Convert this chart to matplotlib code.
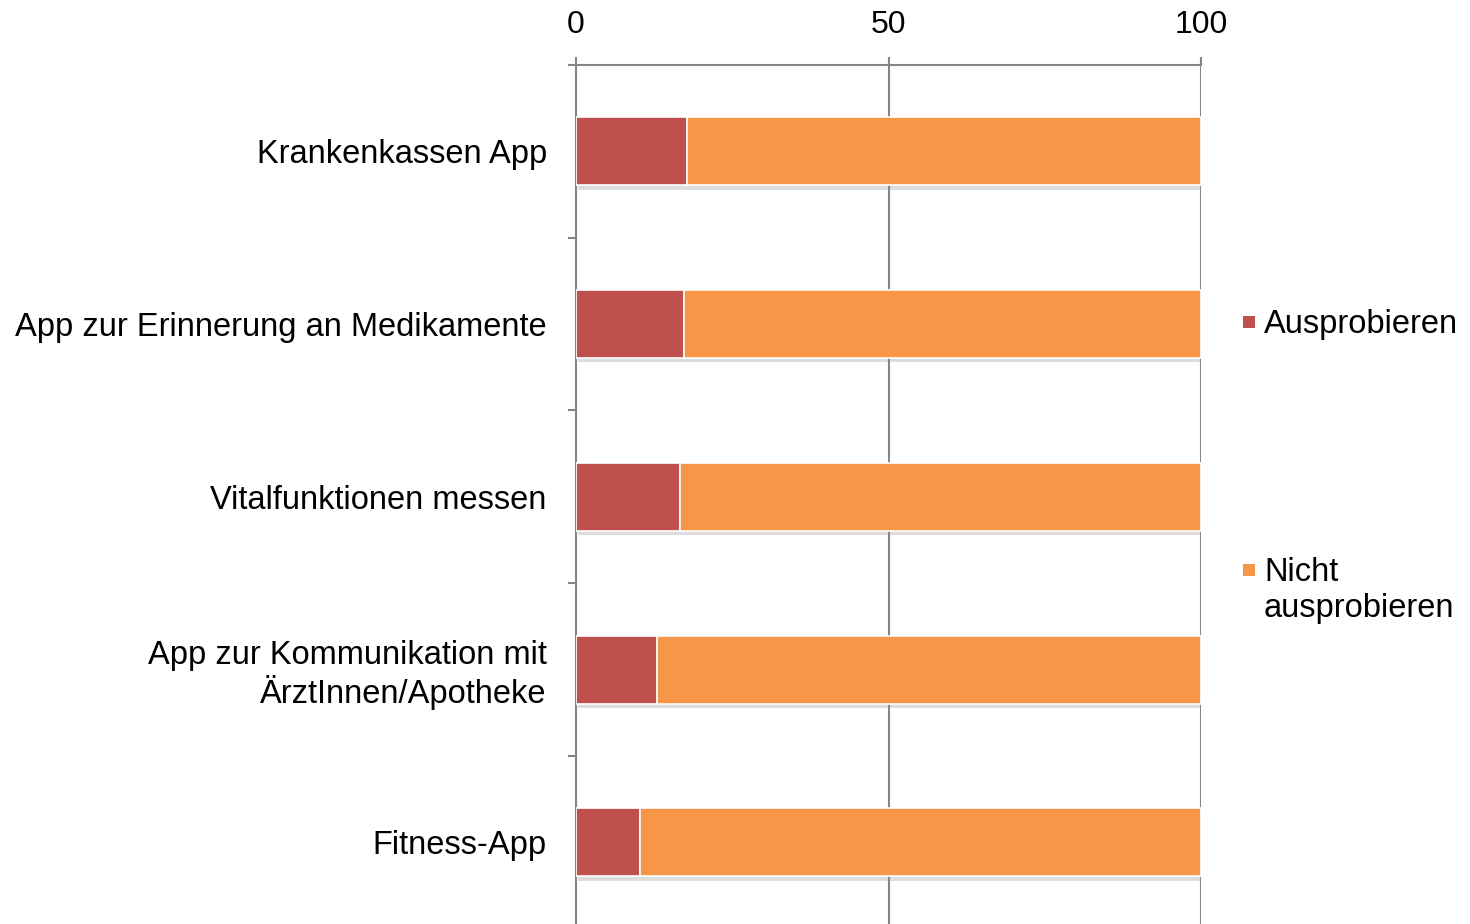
import matplotlib
matplotlib.use("Agg")
import matplotlib.pyplot as plt
import matplotlib.patheffects as pe
from matplotlib.patches import Rectangle
import numpy as np

categories = ["Krankenkassen App", "App zur Erinnerung an Medikamente",
              "Vitalfunktionen messen", "App zur Kommunikation mit\nÄrztInnen/Apotheke",
              "Fitness-App"]
ausprobieren = [17.8, 17.3, 16.7, 13.0, 10.3]
nicht_ausprobieren = [82.2, 82.7, 83.3, 87.0, 89.7]
series_names = ["Ausprobieren", "Nicht\nausprobieren"]
colors = ["#C0504D", "#F79646"]
xticks = [0, 50, 100]

plt.rcParams['font.family'] = ['Liberation Sans', 'DejaVu Sans']

W, H = 1470, 924
fig = plt.figure(figsize=(W/100, H/100), dpi=100)
left, right, top = 576, 1201, 65
band = 172.75
ax_h = 5 * band
ax = fig.add_axes([left / W, (H - top - ax_h) / H, (right - left) / W, ax_h / H])

y = np.arange(len(categories))
shadow = [pe.SimplePatchShadow(offset=(1.5, -3), shadow_rgbFace="#909090", alpha=0.3), pe.Normal()]
b1 = ax.barh(y, ausprobieren, height=0.395, color=colors[0], edgecolor="white", linewidth=1.2, zorder=3)
b2 = ax.barh(y, nicht_ausprobieren, left=ausprobieren, height=0.395, color=colors[1],
             edgecolor="white", linewidth=1.2, zorder=3)
for p in list(b1) + list(b2):
    p.set_path_effects(shadow)

ax.set_xlim(0, 100)
ax.set_ylim(4.5, -0.5)
ax.set_xticks(xticks)
ax.xaxis.tick_top()
ax.tick_params(axis='x', which='major', direction='out', length=6, width=1.5, color="#868686",
               labelsize=23, pad=12)
ax.set_yticks(y)
ax.set_yticklabels(categories, fontsize=23.5, linespacing=1.15)
ax.tick_params(axis='y', which='major', length=0, pad=21)
ax.set_yticks(np.arange(-0.5, 4.6, 1.0), minor=True)
ax.tick_params(axis='y', which='minor', direction='out', length=6, width=1.5, color="#868686")
ax.grid(axis='x', color="#868686", linewidth=1.5, zorder=0)
ax.set_axisbelow(True)
for s in ["right", "bottom"]:
    ax.spines[s].set_visible(False)
for s in ["left", "top"]:
    ax.spines[s].set_color("#868686")
    ax.spines[s].set_linewidth(1.5)

# legend (manual)
marker_y = [322, 570]
for name, c, ly in zip(series_names, colors, marker_y):
    fig.patches.append(Rectangle((1243 / W, (H - ly - 6) / H), 12 / W, 12 / H,
                                 transform=fig.transFigure, facecolor=c, edgecolor="none"))
    n_lines = name.count("\n") + 1
    cy = ly + 2 + (n_lines - 1) * 37 / 2
    fig.text(1264 / W, (H - cy) / H, name, fontsize=23.5, va="center", ha="left",
             linespacing=1.2)

fig.savefig("out.png", dpi=100, facecolor="white")
